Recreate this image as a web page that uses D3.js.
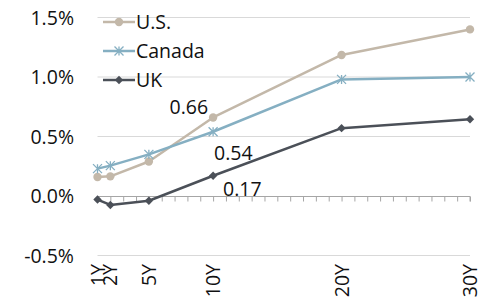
<!DOCTYPE html>
<html><head><meta charset="utf-8">
<script src="https://cdn.jsdelivr.net/npm/d3@7"></script>
<style>body{margin:0;background:#fff}svg{display:block}text{font-family:"Open Sans",sans-serif;fill:#111}</style>
</head><body><svg id="c" width="496" height="306"></svg>
<script>
const maturities = [1, 2, 5, 10, 20, 30];
const tickLabels = ["1Y", "2Y", "5Y", "10Y", "20Y", "30Y"];
const yTicks = [-0.5, 0, 0.5, 1.0, 1.5];
const usValues = [0.16, 0.165, 0.29, 0.66, 1.185, 1.40];
const canadaValues = [0.23, 0.255, 0.35, 0.54, 0.98, 1.00];
const ukValues = [-0.03, -0.075, -0.04, 0.17, 0.57, 0.645];
const seriesNames = ["U.S.", "Canada", "UK"];
const labelled = [{s: 0, v: "0.66"}, {s: 1, v: "0.54"}, {s: 2, v: "0.17"}];

const colors = ["#c3b8a9", "#85afc2", "#4b5058"];
const series = [usValues, canadaValues, ukValues].map((vals, i) => ({name: seriesNames[i], vals, color: colors[i]}));
const FS = 19.5;

const svg = d3.select("#c");
const x = d3.scaleLinear().domain([1, 30]).range([97.5, 470]);
const y = d3.scaleLinear().domain([-0.5, 1.5]).range([255.5, 17.5]);

// gridlines
svg.append("g").selectAll("line").data(yTicks.filter(d => d !== 0)).join("line")
  .attr("x1", x(1)).attr("x2", x(30)).attr("y1", d => y(d)).attr("y2", d => y(d))
  .attr("stroke", "#d9d9d9").attr("stroke-width", 1);

// y labels
svg.append("g").selectAll("text").data(yTicks).join("text")
  .attr("x", 74).attr("y", d => y(d)).attr("dy", "0.36em").attr("text-anchor", "end")
  .attr("font-size", FS).text(d => d3.format(".1f")(d).replace("\u2212", "-") + "%");

// zero axis with ticks each year
const xAxis = d3.axisBottom(x).tickValues(d3.range(1, 31)).tickSize(5).tickFormat("");
const ax = svg.append("g").attr("transform", `translate(0,${Math.round(y(0)) + 0.5})`).call(xAxis);
ax.select(".domain").attr("stroke", "#a6a6a6").attr("d", `M${x(1)},5V0H${x(30)}V5`);
ax.selectAll(".tick line").attr("stroke", "#a6a6a6");

// x labels rotated
svg.append("g").selectAll("text").data(maturities).join("text")
  .attr("transform", d => `translate(${x(d) + 7},264) rotate(-90)`)
  .attr("text-anchor", "end").attr("font-size", FS)
  .text((d, i) => tickLabels[i]);

// lines
const line = d3.line().x((d, i) => x(maturities[i])).y(d => y(d));
series.forEach(s => {
  svg.append("path").attr("d", line(s.vals)).attr("fill", "none")
    .attr("stroke", s.color).attr("stroke-width", 2.5).attr("stroke-linejoin", "round");
});

function marker(g, type, cx, cy, color) {
  if (type === 0) {
    g.append("circle").attr("cx", cx).attr("cy", cy).attr("r", 4.2).attr("fill", color);
  } else if (type === 1) {
    const r = 4.5;
    g.append("path").attr("d", `M${cx - r},${cy - r}L${cx + r},${cy + r}M${cx - r},${cy + r}L${cx + r},${cy - r}M${cx},${cy - r}V${cy + r}`)
      .attr("stroke", color).attr("stroke-width", 1.3).attr("fill", "none");
  } else {
    const r = 4.2;
    g.append("path").attr("d", `M${cx},${cy - r}L${cx + r},${cy}L${cx},${cy + r}L${cx - r},${cy}Z`).attr("fill", color);
  }
}
series.forEach((s, si) => {
  const g = svg.append("g");
  s.vals.forEach((v, i) => marker(g, si, x(maturities[i]), y(v), s.color));
});

// data labels at 10Y
const i10 = maturities.indexOf(10);
const lblPos = [{dx: -5, dy: -3, a: "end"}, {dx: 1, dy: 28, a: "start"}, {dx: 10, dy: 20, a: "start"}];
labelled.forEach((l, k) => {
  svg.append("text").attr("x", x(10) + lblPos[k].dx).attr("y", y(series[l.s].vals[i10]) + lblPos[k].dy)
    .attr("text-anchor", lblPos[k].a).attr("font-size", FS).text(l.v);
});

// legend
const lg = svg.append("g");
series.forEach((s, i) => {
  const ly = 22 + i * 29;
  lg.append("line").attr("x1", 103).attr("x2", 135).attr("y1", ly).attr("y2", ly)
    .attr("stroke", s.color).attr("stroke-width", 2.5);
  marker(lg, i, 119, ly, s.color);
  lg.append("text").attr("x", 136).attr("y", ly).attr("dy", "0.36em").attr("font-size", FS).text(s.name);
});
</script></body></html>
